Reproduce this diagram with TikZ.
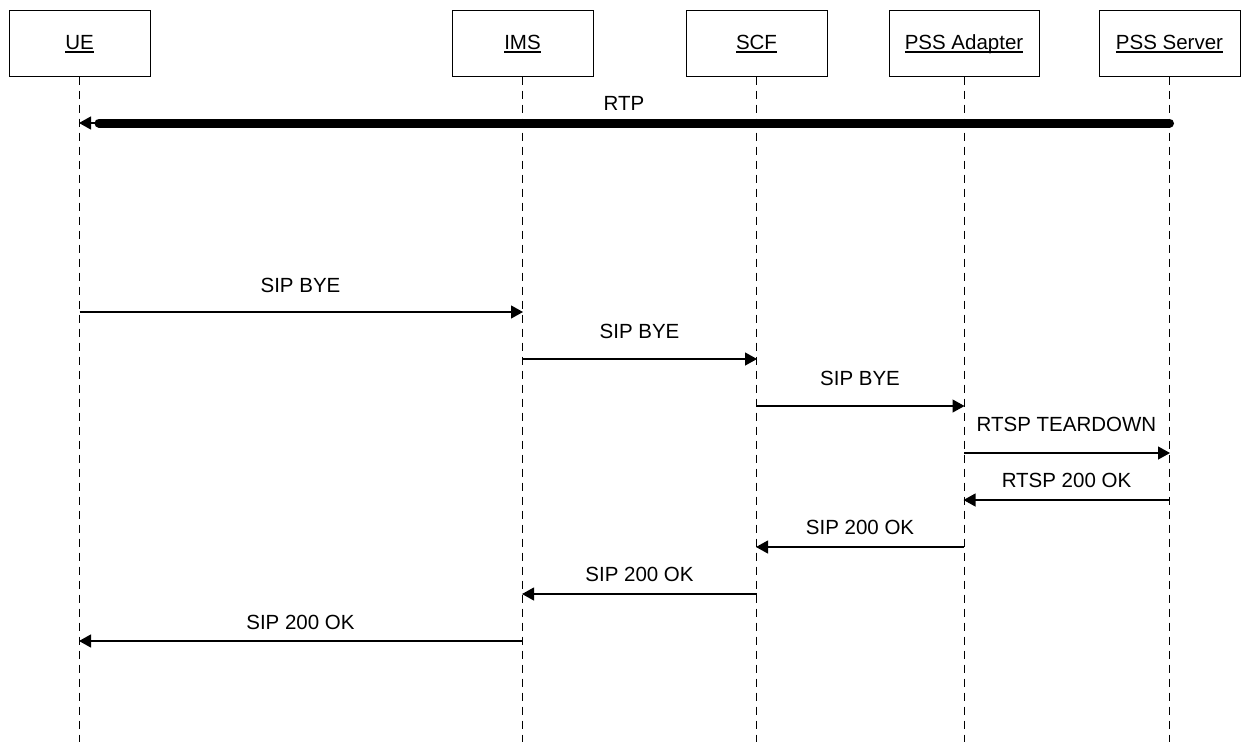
\documentclass[tikz,border=0pt]{standalone}
\usepackage{fontspec}
\setmainfont{Liberation Sans}
\usetikzlibrary{arrows.meta}
\newcommand\headul[1]{\setbox0\hbox{#1}\rlap{\vrule width\wd0 height -1.8pt depth 3.2pt}\box0}
\begin{document}
\begin{tikzpicture}[x=1pt,y=-1pt,
  headbox/.style={draw, line width=1pt, minimum width=141pt, minimum height=66pt, inner sep=0pt, text height=14.7pt, text depth=2pt, font=\fontsize{20.5}{24}\selectfont},
  lifeline/.style={line width=1pt, dash pattern=on 8pt off 6pt},
  msg/.style={line width=1.2pt, -{Triangle[length=12pt,width=13pt]}, shorten >=-0.5pt},
  lbl/.style={font=\fontsize{20.5}{24}\selectfont, inner sep=0pt}]
\useasboundingbox (0,0) rectangle (1241,742);
% heads
\node[headbox] (ue) at (79.5,43) {\headul{UE}};
\node[headbox] (ims) at (522.5,43) {\headul{IMS}};
\node[headbox] (scf) at (756.5,43) {\headul{SCF}};
\node[headbox, minimum width=150pt] (pa) at (964,43) {\headul{PSS Adapter}};
\node[headbox] (ps) at (1169.5,43) {\headul{PSS Server}};
% lifeline ends
\coordinate (bot) at (0,742);
\foreach \n in {ue,ims,scf,pa,ps}{
  \draw[lifeline] (\n.south) -- (\n.south |- bot);
}
% RTP
\coordinate (rtp) at (0,123);
\coordinate (rtpgap) at (99,123);
\draw[line width=9pt, line cap=round] (ps.south |- rtp) -- (rtpgap);
\draw[msg] (rtpgap) -- (ue.south |- rtp);
\node[lbl] at (624,103) {RTP};
% messages
\coordinate (m1) at (0,312);
\coordinate (m2) at (0,359);
\coordinate (m3) at (0,406);
\coordinate (m4) at (0,453);
\coordinate (m5) at (0,500);
\coordinate (m6) at (0,547);
\coordinate (m7) at (0,594);
\coordinate (m8) at (0,641);
\draw[msg] (ue.south |- m1) -- (ims.south |- m1);
\node[lbl] at (300.5,285) {SIP BYE};
\draw[msg] (ims.south |- m2) -- (scf.south |- m2);
\node[lbl] at (639.5,331) {SIP BYE};
\draw[msg] (scf.south |- m3) -- (pa.south |- m3);
\node[lbl] at (860,378) {SIP BYE};
\draw[msg] (pa.south |- m4) -- (ps.south |- m4);
\node[lbl] at (1066.5,424.5) {RTSP TEARDOWN};
\draw[msg] (ps.south |- m5) -- (pa.south |- m5);
\node[lbl] at (1066.5,480.5) {RTSP 200 OK};
\draw[msg] (pa.south |- m6) -- (scf.south |- m6);
\node[lbl] at (860,527) {SIP 200 OK};
\draw[msg] (scf.south |- m7) -- (ims.south |- m7);
\node[lbl] at (639.5,574) {SIP 200 OK};
\draw[msg] (ims.south |- m8) -- (ue.south |- m8);
\node[lbl] at (300.5,622) {SIP 200 OK};
\end{tikzpicture}
\end{document}
